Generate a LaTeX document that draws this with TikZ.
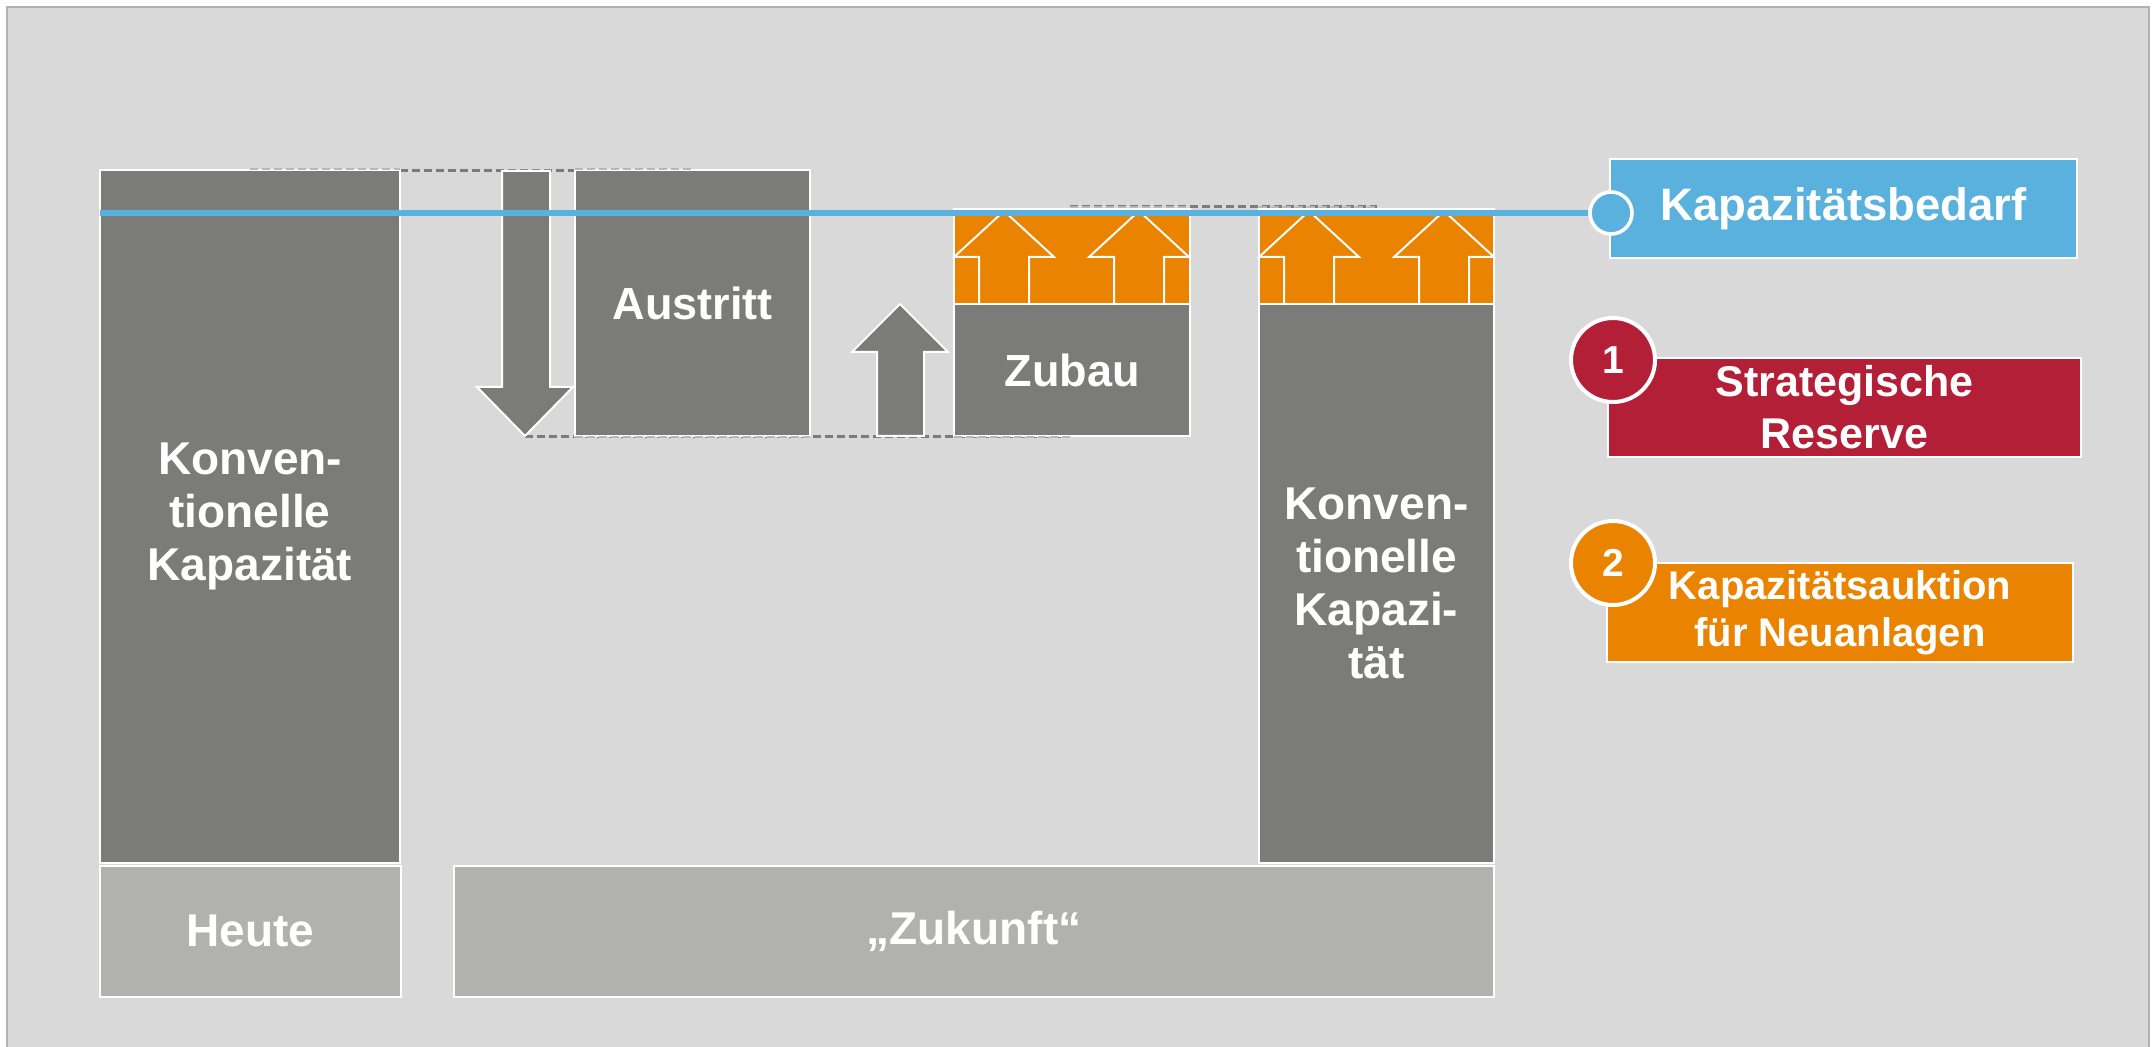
\documentclass[tikz,border=0pt]{standalone}
\usepackage{fontspec}
\setmainfont{Liberation Sans}
\definecolor{bgc}{HTML}{D9D9D9}
\definecolor{framec}{HTML}{B2B2B2}
\definecolor{darkg}{HTML}{7B7C7A}
\definecolor{lightg}{HTML}{B1B2B0}
\definecolor{orangec}{HTML}{E98300}
\definecolor{bluec}{HTML}{5AB1DD}
\definecolor{redc}{HTML}{B41F38}
\definecolor{ghostc}{HTML}{B8B8B8}
\tikzset{
  blk/.style={rectangle, draw=white, line width=1pt, inner sep=0pt, outer sep=0pt, text=white, align=center},
  darkbox/.style={blk, fill=darkg},
  lightbox/.style={blk, fill=lightg},
  orangebox/.style={blk, fill=orangec},
  bigtext/.style={font=\bfseries\fontsize{23}{26.5}\selectfont},
  midtext/.style={font=\bfseries\fontsize{22.5}{26}\selectfont},
  dashline/.style={draw=darkg, line width=1.5pt, dash pattern=on 4pt off 2pt},
  ghostline/.style={draw=ghostc, line width=1pt, dash pattern=on 4pt off 2pt},
  blockarrow/.style={fill=darkg, draw=white, line width=1pt, line join=miter},
  smallarrow/.style={draw=white, line width=1pt},
  numcircle/.style={circle, draw=white, line width=2pt, minimum size=42pt, inner sep=0pt, text=white, font=\bfseries\fontsize{19.5}{20}\selectfont},
}
\begin{document}
\begin{tikzpicture}[x=0.5pt,y=-0.5pt]
\useasboundingbox (0,0) rectangle (2156,1047);
\fill[white] (0,0) rectangle (2156,1047);
\path[fill=bgc, draw=framec, line width=1.2pt] (7,7) rectangle (2149,1060);

% dashed guide lines (behind boxes)
\coordinate (dTopA) at (400,171);
\coordinate (dTopB) at (575,171);
\coordinate (dBotA) at (525,437);
\coordinate (dBotB) at (1070,437);
\coordinate (dZuA) at (1070,207);
\coordinate (dZuB) at (1377,207);
\draw[dashline] (dTopA) -- (dTopB);
\draw[dashline] (dBotA) -- (dBotB);
\draw[dashline] (dZuA) -- (dZuB);

% boxes
\node[darkbox, minimum width=150pt, minimum height=346.5pt, bigtext] (konvL) at (250,516.5) {Konven-\\tionelle\\Kapazität};
\node[lightbox, minimum width=150.5pt, minimum height=65.5pt, bigtext] (heute) at (250.5,931) {Heute};
\node[lightbox, minimum width=520pt, minimum height=65.5pt, bigtext] (zukunft) at (974,931) {„Zukunft“};
\node[darkbox, minimum width=117.5pt, minimum height=133pt, midtext] (austritt) at (692.5,303.5) {Austritt};
\node[darkbox, minimum width=118pt, minimum height=66pt, midtext] (zubau) at (1072,370) {Zubau};
\node[orangebox, minimum width=118pt, minimum height=47.5pt] (zubauO) at (1072,256.5) {};
\node[darkbox, minimum width=117.5pt, minimum height=279.5pt, bigtext] (konvR) at (1376.5,583.5) {Konven-\\tionelle\\Kapazi-\\tät};
\node[orangebox, minimum width=117.5pt, minimum height=47.5pt] (konvRO) at (1376.5,256.5) {};

% small up arrows inside orange boxes
\foreach \L in {954,1259}{
  \foreach \o in {0,135}{
    \draw[smallarrow] ({\L+\o+25},303) -- ({\L+\o+25},257) -- ({\L+\o},257) -- ({\L+\o+50},211) -- ({\L+\o+100},257) -- ({\L+\o+75},257) -- ({\L+\o+75},303);
  }
}

% block arrows
\path[blockarrow] (502,171) -- (502,387) -- (477,387) -- (525,436) -- (573,387) -- (550,387) -- (550,171) -- cycle;
\path[blockarrow] (877,436) -- (877,352) -- (852,352) -- (900,304) -- (948,352) -- (924,352) -- (924,436) -- cycle;

% ghost dashes over box edges
\draw[ghostline] (250,169.5) -- (400,169.5);
\draw[ghostline] (575,169.5) -- (692,169.5);
\draw[ghostline] (575,437.5) -- (810,437.5);
\draw[ghostline] (954,437.5) -- (1070,437.5);
\draw[ghostline] (1070,207.5) -- (1190,207.5);
\draw[ghostline] (1259,207.5) -- (1377,207.5);

% demand line and legend
\node[blk, fill=bluec, minimum width=233.5pt, minimum height=49.5pt, font=\bfseries\fontsize{22.75}{26}\selectfont] (bedarf) at (1843.5,209) {Kapazitätsbedarf};
\coordinate (lineStart) at (100,213);
\node[circle, fill=bluec, draw=white, line width=1.8pt, minimum size=21pt, inner sep=0pt] (bedarfdot) at (1611,213) {};
\draw[bluec, line width=2.6pt] (lineStart) -- (bedarfdot.west);

\node[blk, fill=redc, minimum width=236.5pt, minimum height=49.5pt, font=\bfseries\fontsize{21.5}{26}\selectfont] (reserve) at (1844.5,407.5) {Strategische\\Reserve};
\node[numcircle, fill=redc] (c1) at (1613,360) {1};

\node[blk, fill=orangec, minimum width=233pt, minimum height=49.5pt, font=\bfseries\fontsize{20}{23.5}\selectfont] (auktion) at (1840,612.5) {Kapazitätsauktion\\für Neuanlagen};
\node[numcircle, fill=orangec] (c2) at (1613,563) {2};
\end{tikzpicture}
\end{document}
